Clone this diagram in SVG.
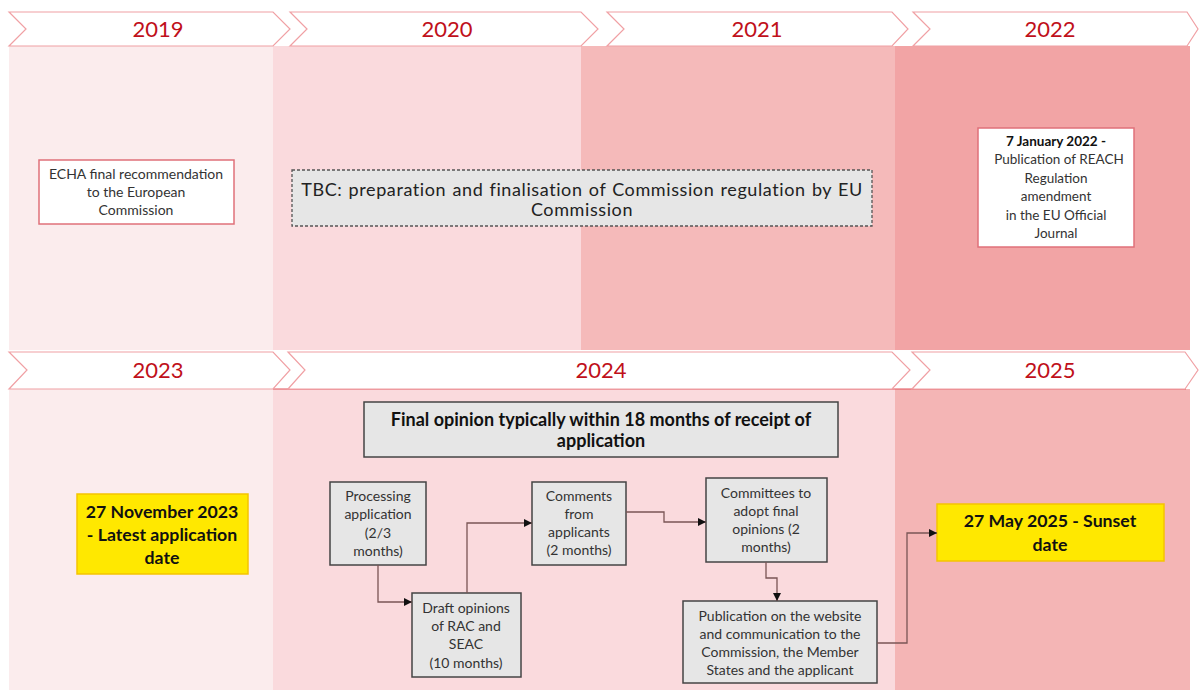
<svg xmlns="http://www.w3.org/2000/svg" width="1204" height="690" viewBox="0 0 1204 690">
<style>
.yr{font-family:Lato,"Liberation Sans",sans-serif;font-size:22px;fill:#c0101a;text-anchor:middle}
.chev{fill:#fff;stroke:#f0a0a4;stroke-width:1.2}
.t{font-family:Lato,"Liberation Sans",sans-serif;font-size:14px;fill:#333;text-anchor:middle}
.tb{font-family:Lato,"Liberation Sans",sans-serif;font-weight:bold;fill:#111;text-anchor:middle}
.wbox{fill:#fff;stroke:#e0707a;stroke-width:1.5}
.gbox{fill:#e6e6e6;stroke:#444;stroke-width:1.5}
.ybox{fill:#ffe800;stroke:#f5c400;stroke-width:1.5}
.con{fill:none;stroke:#7a5555;stroke-width:1.3}
</style>
<defs>
<marker id="arr" viewBox="0 0 10 10" refX="10" refY="5" markerWidth="8" markerHeight="8" markerUnits="userSpaceOnUse" orient="auto">
<path d="M0,0 L10,5 L0,10 z" fill="#111"/>
</marker>
</defs>
<rect width="1204" height="690" fill="#fff"/>
<g id="panels">
<rect x="9" y="46" width="264" height="304" fill="#fbeced"/>
<rect x="273" y="46" width="308" height="304" fill="#fadadd"/>
<rect x="581" y="46" width="314" height="304" fill="#f5baba"/>
<rect x="895" y="46" width="295" height="304" fill="#f2a4a5"/>
<rect x="9" y="389" width="264" height="301" fill="#fbeced"/>
<rect x="273" y="389" width="622" height="301" fill="#fadadd"/>
<rect x="895" y="389" width="295" height="301" fill="#f4b5b5"/>
<line x1="273" y1="389" x2="1186" y2="389" stroke="#e05058" stroke-width="1"/>
</g>
<g id="chevrons">
<path class="chev" d="M9,12 L273,12 L290,29 L273,46 L9,46 L26,29 z"/>
<path class="chev" d="M290,12 L581,12 L598,29 L581,46 L290,46 L307,29 z"/>
<path class="chev" d="M607,12 L892,12 L908,29 L892,46 L607,46 L624,29 z"/>
<path class="chev" d="M913,12 L1187,12 L1198,29 L1187,46 L913,46 L930,29 z"/>
<text class="yr" x="158" y="37">2019</text>
<text class="yr" x="447" y="37">2020</text>
<text class="yr" x="757" y="37">2021</text>
<text class="yr" x="1050" y="37">2022</text>
<path class="chev" d="M9,352 L273,352 L290,370 L273,389 L9,389 L27,370 z"/>
<path class="chev" d="M288,352 L892,352 L910,370 L892,389 L288,389 L305,370 z"/>
<path class="chev" d="M912,352 L1185,352 L1198,370 L1185,389 L912,389 L930,370 z"/>
<text class="yr" x="158" y="378">2023</text>
<text class="yr" x="601" y="378">2024</text>
<text class="yr" x="1050" y="378">2025</text>
</g>
<g id="echa">
<rect class="wbox" x="39" y="160" width="195" height="64"/>
<text class="t" x="136" y="179">ECHA final recommendation</text>
<text class="t" x="136" y="197">to the European</text>
<text class="t" x="136" y="215">Commission</text>
</g>
<g id="tbc">
<rect x="292" y="170" width="580" height="56" fill="#e6e6e6" stroke="#555" stroke-width="1.3" stroke-dasharray="3,2"/>
<text class="t" x="582" y="196" style="font-size:18px;fill:#222;letter-spacing:0.6px;word-spacing:1px">TBC: preparation and finalisation of Commission regulation by EU</text>
<text class="t" x="582" y="216" style="font-size:18px;fill:#222;letter-spacing:0.6px">Commission</text>
</g>
<g id="pub2022">
<rect class="wbox" x="978" y="128" width="156" height="119"/>
<text class="tb" x="1056" y="146" style="font-size:13.5px">7 January 2022 -</text>
<text class="t" x="1059" y="164" style="font-size:13.5px">Publication of REACH</text>
<text class="t" x="1056" y="183" style="font-size:13.5px">Regulation</text>
<text class="t" x="1056" y="201" style="font-size:13.5px">amendment</text>
<text class="t" x="1056" y="220" style="font-size:13.5px">in the EU Official</text>
<text class="t" x="1056" y="238" style="font-size:13.5px">Journal</text>
</g>
<g id="finalopinion">
<rect class="gbox" x="364" y="402" width="474" height="55"/>
<text class="tb" x="601" y="426" style="font-size:18px">Final opinion typically within 18 months of receipt of</text>
<text class="tb" x="601" y="447" style="font-size:18px">application</text>
</g>
<g id="latest">
<rect class="ybox" x="77" y="494" width="171" height="80"/>
<text class="tb" x="162" y="518" style="font-size:17.7px">27 November 2023</text>
<text class="tb" x="162" y="541" style="font-size:17.7px">- Latest application</text>
<text class="tb" x="162" y="564" style="font-size:17.7px">date</text>
</g>
<g id="sunset">
<rect class="ybox" x="937" y="504" width="227" height="57"/>
<text class="tb" x="1050" y="527" style="font-size:17.7px">27 May 2025 - Sunset</text>
<text class="tb" x="1050" y="551" style="font-size:17.7px">date</text>
</g>
<g id="processing">
<rect class="gbox" x="330" y="482" width="96" height="83"/>
<text class="t" x="378" y="501">Processing</text>
<text class="t" x="378" y="519">application</text>
<text class="t" x="378" y="538">(2/3</text>
<text class="t" x="378" y="556">months)</text>
</g>
<g id="draft">
<rect class="gbox" x="412" y="593" width="109" height="84"/>
<text class="t" x="466" y="613">Draft opinions</text>
<text class="t" x="466" y="631">of RAC and</text>
<text class="t" x="466" y="649">SEAC</text>
<text class="t" x="466" y="668">(10 months)</text>
</g>
<g id="comments">
<rect class="gbox" x="532" y="482" width="94" height="83"/>
<text class="t" x="579" y="501">Comments</text>
<text class="t" x="579" y="519">from</text>
<text class="t" x="579" y="537">applicants</text>
<text class="t" x="579" y="555">(2 months)</text>
</g>
<g id="committees">
<rect class="gbox" x="706" y="478" width="121" height="84"/>
<text class="t" x="766" y="498">Committees to</text>
<text class="t" x="766" y="516">adopt final</text>
<text class="t" x="766" y="534">opinions (2</text>
<text class="t" x="766" y="552">months)</text>
</g>
<g id="publication">
<rect class="gbox" x="683" y="601" width="194" height="82"/>
<text class="t" x="780" y="621">Publication on the website</text>
<text class="t" x="780" y="639">and communication to the</text>
<text class="t" x="780" y="657">Commission, the Member</text>
<text class="t" x="780" y="675">States and the applicant</text>
</g>
<g id="connectors">
<path class="con" d="M378,565 L378,602 L412,602" marker-end="url(#arr)"/>
<path class="con" d="M467,593 L467,523 L532,523" marker-end="url(#arr)"/>
<path class="con" d="M626,512 L664,512 L664,522 L706,522" marker-end="url(#arr)"/>
<path class="con" d="M766,562 L766,578 L777,578 L777,601" marker-end="url(#arr)"/>
<path class="con" d="M877,643 L907,643 L907,533 L937,533" marker-end="url(#arr)"/>
</g>
</svg>
